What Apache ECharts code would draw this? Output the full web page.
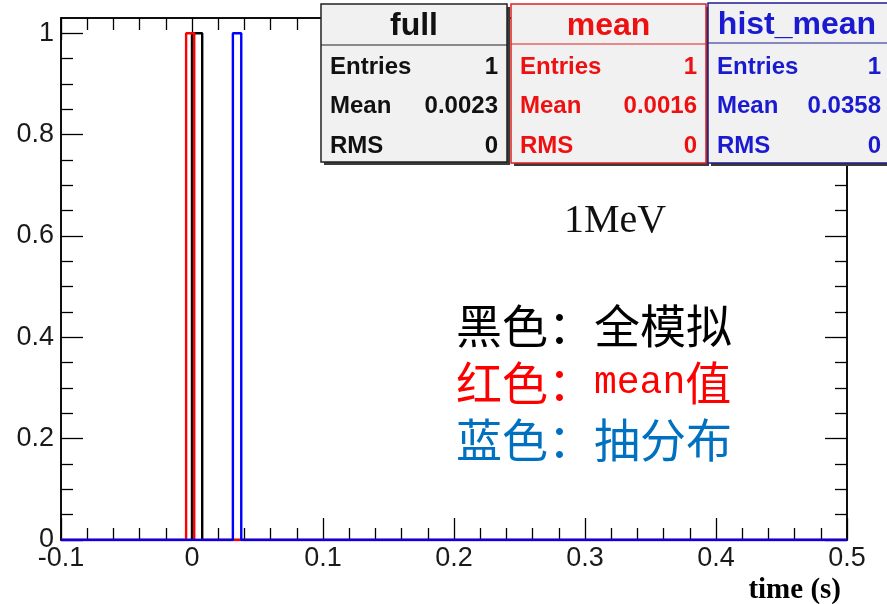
<!DOCTYPE html>
<html>
<head>
<meta charset="utf-8">
<script src="https://cdn.jsdelivr.net/npm/echarts@6/dist/echarts.min.js"></script>
<style>
  html, body { margin: 0; padding: 0; background: #ffffff; }
  #chart { width: 887px; height: 604px; }
</style>
</head>
<body>
<div id="chart"></div>
<script>
// Histogram contents: one filled bin per histogram
const histNames = ['full', 'mean', 'hist_mean'];
const binLow = [0.0000, -0.0045, 0.0312];
const binHigh = [0.0078, 0.0017, 0.0376];
const binCount = [1, 1, 1];

// Statistics boxes
const statEntries = [1, 1, 1];
const statMean = ['0.0023', '0.0016', '0.0358'];
const statRms = [0, 0, 0];

// Axis ranges and tick labels
const xRange = [-0.1, 0.5];
const yRange = [0, 1.03];
const xTickStep = 0.1;
const yMajorTicks = [0, 0.2, 0.4, 0.6, 0.8, 1];
const yMinorStep = 0.05;

// Styling
const histColors = ['#000000', '#ff0000', '#0000ff'];
const statText = ['#111111', '#ee1111', '#1a1ad0'];
const statBorder = ['#222222', '#e02020', '#1c1c90'];
const boxes = [
  { x: 321, y: 4, w: 186, h: 158, sep: 41 },
  { x: 511, y: 4, w: 195, h: 159, sep: 40 },
  { x: 708, y: 3, w: 195, h: 160, sep: 40 }
];

const yMinorTicks = [];
for (let v = yRange[0]; v <= yRange[1] + 1e-9; v += yMinorStep) {
  const r = Math.round(v * 100) / 100;
  if (yMajorTicks.indexOf(r) < 0) yMinorTicks.push(r);
}

// Histogram outline (ROOT style): zero line across the range, box around the filled bin
const series = histNames.map((name, i) => ({
  name: name,
  type: 'line',
  xAxisIndex: 0,
  yAxisIndex: 0,
  showSymbol: false,
  symbol: 'none',
  silent: true,
  clip: true,
  lineStyle: { color: histColors[i], width: 2.4 },
  data: [
    [xRange[0], 0],
    [binLow[i], 0],
    [binLow[i], binCount[i]],
    [binHigh[i], binCount[i]],
    [binHigh[i], 0],
    [xRange[1], 0]
  ],
  z: 5 + i
}));

const labelFont = { fontFamily: 'Liberation Sans', fontSize: 27, color: '#1a1a1a' };
const tickLine = { color: '#000', width: 1.3 };

const xCommon = {
  type: 'value', min: xRange[0], max: xRange[1], interval: xTickStep,
  axisLine: { show: true, onZero: false, lineStyle: { color: '#000', width: 1.5 } },
  axisTick: { show: true, inside: true, length: 22, lineStyle: tickLine },
  minorTick: { show: true, splitNumber: 5, length: 12, lineStyle: tickLine },
  splitLine: { show: false }
};

function yAxisDef(side, major, withLabels) {
  return {
    type: 'value', min: yRange[0], max: yRange[1],
    position: side, offset: 0,
    splitLine: { show: false },
    axisLine: { show: major, onZero: false, lineStyle: { color: '#000', width: 1.5 } },
    axisTick: { show: true, inside: true, length: major ? 22 : 12,
      customValues: major ? yMajorTicks : yMinorTicks, lineStyle: tickLine },
    axisLabel: withLabels
      ? Object.assign({ show: true, margin: 7, customValues: yMajorTicks, formatter: v => String(+v.toFixed(2)) }, labelFont)
      : { show: false }
  };
}

function statGraphics(i) {
  const b = boxes[i];
  const els = [];
  // drop shadow
  els.push({ type: 'rect', shape: { x: b.x + 3, y: b.y + 3, width: b.w, height: b.h },
    style: { fill: '#3a3a3a' }, z: 100 });
  els.push({ type: 'rect', shape: { x: b.x, y: b.y, width: b.w, height: b.h },
    style: { fill: '#f1f1f1', stroke: statBorder[i], lineWidth: 1.5 }, z: 101 });
  els.push({ type: 'line', shape: { x1: b.x, y1: b.y + b.sep, x2: b.x + b.w, y2: b.y + b.sep },
    style: { stroke: statBorder[i], lineWidth: 1.2 }, z: 102 });
  const titleCx = i === 2 ? b.x + 89 : b.x + b.w / 2;
  els.push({ type: 'text', x: titleCx, y: b.y + 22, z: 103,
    style: { text: histNames[i], fill: statText[i], font: 'bold 32px "Liberation Sans"',
      align: 'center', verticalAlign: 'middle' } });
  const rows = [['Entries', String(statEntries[i])], ['Mean', statMean[i]], ['RMS', String(statRms[i])]];
  const rowY = [67, 106, 146];
  const rightX = i === 2 ? b.x + 173 : b.x + b.w - 9;
  rows.forEach((r, k) => {
    els.push({ type: 'text', x: b.x + 9, y: rowY[k], z: 103,
      style: { text: r[0], fill: statText[i], font: 'bold 24px "Liberation Sans"',
        align: 'left', verticalAlign: 'middle' } });
    els.push({ type: 'text', x: rightX, y: rowY[k], z: 103,
      style: { text: r[1], fill: statText[i], font: 'bold 24px "Liberation Sans"',
        align: 'right', verticalAlign: 'middle' } });
  });
  return els;
}

const cjk = '"Noto Sans CJK SC"';
const annotations = [
  { type: 'text', x: 564, y: 221, z: 50,
    style: { text: '1MeV', fill: '#111', font: '40px "Liberation Serif"',
      align: 'left', verticalAlign: 'middle' } },
  { type: 'text', x: 456, y: 326, z: 50,
    style: { text: '黑色：全模拟', fill: '#000', font: '46px ' + cjk,
      align: 'left', verticalAlign: 'middle' } },
  { type: 'text', x: 456, y: 383, z: 50,
    style: { text: '{c|红色：}{l|mean}{c|值}', align: 'left', verticalAlign: 'middle',
      rich: {
        c: { fill: '#ff0000', font: '46px ' + cjk },
        l: { fill: '#ff0000', font: '38px "Liberation Mono"' }
      } } },
  { type: 'text', x: 456, y: 440, z: 50,
    style: { text: '蓝色：抽分布', fill: '#0070c0', font: '46px ' + cjk,
      align: 'left', verticalAlign: 'middle' } },
  { type: 'text', x: 841, y: 591, z: 50,
    style: { text: 'time (s)', fill: '#000', font: 'bold 29px "Liberation Serif"',
      align: 'right', verticalAlign: 'middle' } }
];

let graphics = annotations.slice();
for (let i = 0; i < 3; i++) graphics = graphics.concat(statGraphics(i));

const chart = echarts.init(document.getElementById('chart'), null, { renderer: 'canvas' });
chart.setOption({
  animation: false,
  backgroundColor: '#ffffff',
  grid: { left: 61, top: 18, width: 786, height: 522, show: true, borderColor: '#000', borderWidth: 1.5, backgroundColor: 'transparent' },
  xAxis: [
    Object.assign({}, xCommon, {
      position: 'bottom',
      axisLabel: Object.assign({ show: true, margin: 5, formatter: v => String(+v.toFixed(2)) }, labelFont)
    }),
    Object.assign({}, xCommon, {
      position: 'top',
      axisLabel: { show: false }
    })
  ],
  yAxis: [
    yAxisDef('left', true, true),
    yAxisDef('left', false, false),
    yAxisDef('right', true, false),
    yAxisDef('right', false, false)
  ],
  series: series,
  graphic: graphics
});
</script>
</body>
</html>
